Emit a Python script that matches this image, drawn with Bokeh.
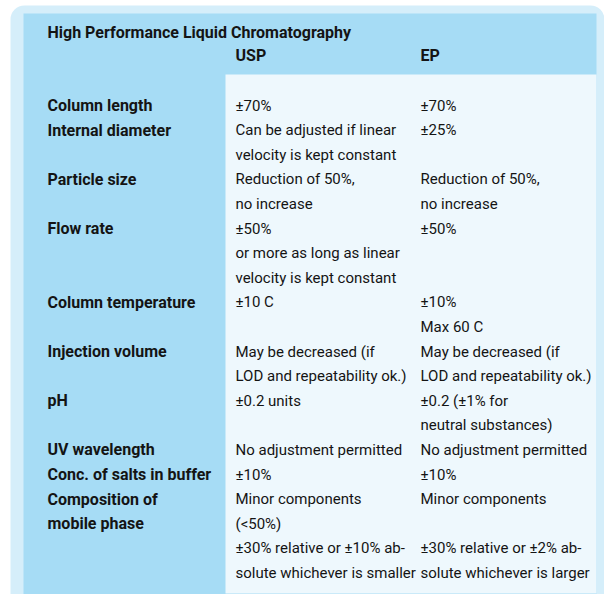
from bokeh.plotting import figure
from bokeh.models import Range1d, BoxAnnotation, ColumnDataSource
from bokeh.core.properties import value
from bokeh.embed import file_html
from bokeh.resources import INLINE

title = "High Performance Liquid Chromatography"
col_heads = ["USP", "EP"]

params = ["Column length", "Internal diameter", "Particle size", "Flow rate",
          "Column temperature", "Injection volume", "pH", "UV wavelength",
          "Conc. of salts in buffer", "Composition of\nmobile phase"]
usp = ["±70%",
       "Can be adjusted if linear\nvelocity is kept constant",
       "Reduction of 50%,\nno increase",
       "±50%\nor more as long as linear\nvelocity is kept constant",
       "±10 C",
       "May be decreased (if\nLOD and repeatability ok.)",
       "±0.2 units",
       "No adjustment permitted",
       "±10%",
       "Minor components\n(<50%)\n±30% relative or ±10%  ab-\nsolute whichever is smaller"]
ep = ["±70%",
      "±25%",
      "Reduction of 50%,\nno increase",
      "±50%",
      "±10%\nMax 60 C",
      "May be decreased (if\nLOD and repeatability ok.)",
      "±0.2 (±1% for\nneutral substances)",
      "No adjustment permitted",
      "±10%",
      "Minor components\n\n±30% relative or ±2% ab-\nsolute whichever is larger"]

FONT = "Roboto"
W, H = 604, 594
X0, Y0 = 0, 0
p = figure(width=W, height=H, output_backend="svg", toolbar_location=None,
           x_range=Range1d(X0, X0 + W), y_range=Range1d(Y0 + H, Y0),
           min_border=0)
p.axis.visible = False
p.grid.visible = False
p.outline_line_color = None
p.background_fill_color = "white"
p.border_fill_color = "white"

# panels
p.add_layout(BoxAnnotation(left=10, right=604, top=5, bottom=640, fill_color="#d5eefa",
                           fill_alpha=1, line_color=None, border_radius=14, level="underlay"))
p.add_layout(BoxAnnotation(left=23, right=596, top=13, bottom=640, fill_color="#a6dcf5",
                           fill_alpha=1, line_color=None, level="underlay"))
p.add_layout(BoxAnnotation(left=225, right=596, top=74, bottom=593, fill_color="#eef8fd",
                           fill_alpha=1, line_color=None, level="underlay"))

LX, UX, EX = 47, 235, 420
LINE0, STEP = 105, 24.6

bx, by, bt = [LX], [32], [title]
bx += [UX, EX]; by += [55, 55]; bt += col_heads

nx, ny, nt = [], [], []
line = 0
for lab, u, e in zip(params, usp, ep):
    ls, us, es = lab.split("\n"), u.split("\n"), e.split("\n")
    n = max(len(ls), len(us), len(es))
    for i, t in enumerate(ls):
        bx.append(LX); by.append(LINE0 + STEP * (line + i)); bt.append(t)
    for i, t in enumerate(us):
        if t:
            nx.append(UX); ny.append(LINE0 + STEP * (line + i)); nt.append(t)
    for i, t in enumerate(es):
        if t:
            nx.append(EX); ny.append(LINE0 + STEP * (line + i)); nt.append(t)
    line += n

p.text(x="x", y="y", text="t", source=ColumnDataSource(dict(x=bx, y=by, t=bt)),
       text_font=value(FONT), text_font_style="bold", text_font_size="16px",
       text_color="#141414", text_baseline="middle", text_align="left")
p.text(x="x", y="y", text="t", source=ColumnDataSource(dict(x=nx, y=ny, t=nt)),
       text_font=value(FONT), text_font_size="15px",
       text_color="#141414", text_baseline="middle", text_align="left")

open("out.html", "w").write(file_html(p, INLINE))
